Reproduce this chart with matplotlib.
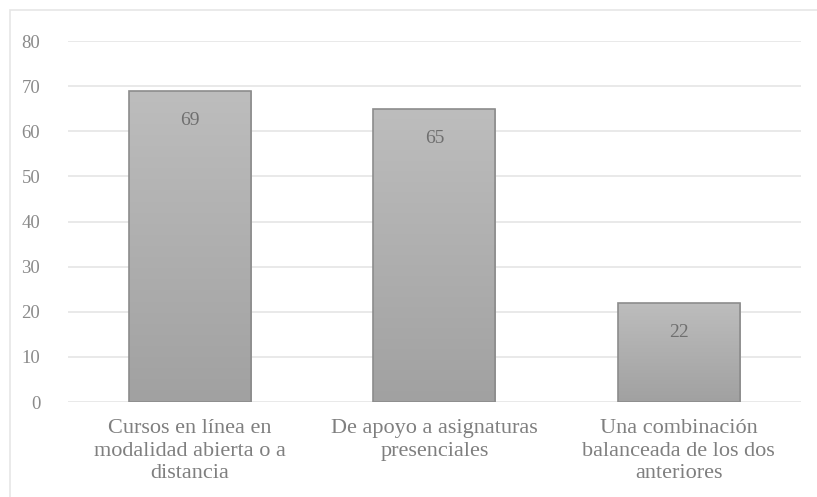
import numpy as np
import matplotlib
matplotlib.use("Agg")
import matplotlib.pyplot as plt
from matplotlib.patches import Rectangle

categories = ["Cursos en línea en\nmodalidad abierta o a\ndistancia",
              "De apoyo a asignaturas\npresenciales",
              "Una combinación\nbalanceada de los dos\nanteriores"]
values = [69, 65, 22]
yticks = [0, 10, 20, 30, 40, 50, 60, 70, 80]

plt.rcParams['font.family'] = ['Liberation Serif', 'DejaVu Serif']

fig = plt.figure(figsize=(8.17, 4.97), dpi=100)
ax = fig.add_axes([0.0832, 0.191, 0.897, 0.7265])

# light frame around the chart area (top and left visible)
fig.patches.append(Rectangle((10 / 817, -0.1), 1.2, 1 - 10 / 497 + 0.1,
                             transform=fig.transFigure, fill=False,
                             edgecolor='#e6e6e6', linewidth=1.2))

x = np.arange(len(values))
w = 0.5
grad = np.linspace(0, 1, 256).reshape(-1, 1)
cmap = matplotlib.colors.LinearSegmentedColormap.from_list('g', ['#a1a1a1', '#bdbdbd'])
for xi, v in zip(x, values):
    bar = ax.bar(xi, v, width=w, facecolor='none', edgecolor='#8c8c8c', linewidth=1.2, zorder=3)[0]
    im = ax.imshow(grad, extent=(xi - w / 2, xi + w / 2, 0, v), origin='lower',
                   cmap=cmap, aspect='auto', zorder=2)
    im.set_clip_path(bar)
    ax.text(xi, v - 6.6, str(v), ha='center', va='center', fontsize=14, color='#6f6f6f', zorder=4)

ax.set_xlim(-0.5, 2.5)
ax.set_ylim(0, 80)
ax.set_yticks(yticks)
ax.set_xticks(x)
ax.set_xticklabels(categories, fontsize=16, color='#7f7f7f', linespacing=1.27)
ax.tick_params(axis='y', labelsize=13.5, colors='#8a8a8a', length=0, pad=20)
ax.tick_params(axis='x', length=0, pad=12)
ax.grid(axis='y', color='#e3e3e3', linewidth=1.1, zorder=0)
ax.set_axisbelow(True)
for s in ax.spines.values():
    s.set_visible(False)

fig.savefig("out.png", dpi=100)
